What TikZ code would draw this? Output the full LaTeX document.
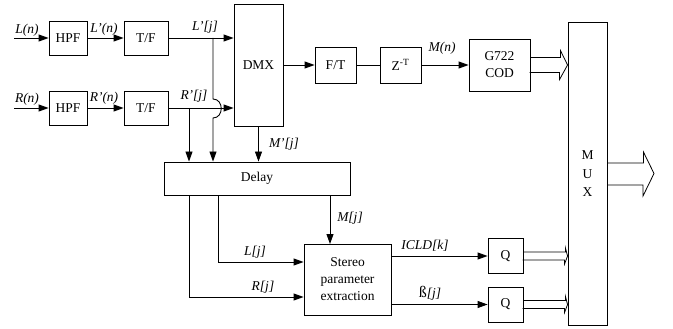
\documentclass[tikz,border=0pt]{standalone}
\usepackage{fontspec}
\setmainfont{Liberation Serif}
\usetikzlibrary{arrows.meta,calc}
\begin{document}
\begin{tikzpicture}[x=1pt,y=-1pt,line width=0.9pt,
  blk/.style n args={2}{draw,inner sep=0pt,minimum width=#1,minimum height=#2,font=\fontsize{13.5}{17}\selectfont,align=center},
  lbl/.style={inner sep=0pt,font=\fontsize{13.5}{16}\selectfont\itshape},
  arr/.style={-{Triangle[length=10pt,width=7pt]}},
  hollow/.style={line width=0.8pt,line join=miter}]
\useasboundingbox (0,0) rectangle (673,329);
% blocks
\node[blk={38}{34}] (hpf1) at (68,38) {HPF};
\node[blk={44}{34}] (tf1) at (146,38) {T/F};
\node[blk={38}{34}] (hpf2) at (68,108) {HPF};
\node[blk={44}{34}] (tf2) at (146,108) {T/F};
\node[blk={49}{122}] (dmx) at (258.5,65) {DMX};
\node[blk={41}{36}] (ft) at (335.5,65) {F/T};
\node[blk={41}{36}] (z) at (400.5,65) {Z\textsuperscript{-T}};
\node[blk={61}{52}] (g722) at (499.5,65) {G722\\COD};
\node[blk={39}{303}] (mux) at (587.5,173.5) {};
\node[inner sep=0pt,font=\fontsize{13.5}{18.5}\selectfont,align=center] (muxt) at (587.5,174) {M\\U\\X};
\node[blk={186}{33}] (delay) at (257,178.5) {Delay};
\node[blk={87}{71}] (stereo) at (347.5,279.5) {Stereo\\parameter\\extraction};
\node[blk={35}{35}] (q1) at (505.5,256) {Q};
\node[blk={35}{35}] (q2) at (505.5,304.5) {Q};
% coordinates
\coordinate (lin) at (14,38);
\coordinate (rin) at (14,108);
\coordinate (lt) at (213,38);
\coordinate (rt) at (189,108);
\coordinate (lj) at (218,262);
\coordinate (rj) at (189,297);
\coordinate (mj) at (330,244);
\coordinate (out) at (654,173.5);
% connectors
\draw[arr] (lin) -- (hpf1.west);
\draw[arr] (rin) -- (hpf2.west);
\draw[arr] (hpf1) -- (tf1);
\draw[arr] (hpf2) -- (tf2);
\draw[arr] (tf1.east) -- (dmx.west |- tf1.east);
\draw[arr] (tf2.east) -- (dmx.west |- tf2.east);
\draw[arr] (lt) -- ($(lt)+(0,61)$) .. controls ($(lt)+(11,61)$) and ($(lt)+(11,80)$) .. ($(lt)+(0,80)$) -- (lt |- delay.north);
\draw[arr] (rt) -- (rt |- delay.north);
\draw[arr] (dmx.south) -- (delay.north -| dmx.south);
\draw[arr] (dmx) -- (ft);
\draw (ft) -- (z);
\draw[arr] (z) -- (g722);
\draw[arr] (delay.south -| lj) |- (stereo.west |- lj);
\draw[arr] (delay.south -| rj) |- (stereo.west |- rj);
\draw[arr] (delay.south -| mj) -- (mj);
\draw[arr] (stereo.east |- q1) -- (q1.west);
\draw[arr] (stereo.east |- q2) -- (q2.west);
% hollow arrows
\draw[hollow] ($(g722.east)+(0,-7.5)$) -- ++(30,0) -- ++(0,-7) -- (mux.west |- g722.east) -- ++(-8,14.5) -- ++(0,-7) -- ++(-30,0);
\draw[hollow] ($(q1.east)+(0,-4)$) -- ++(42,0) -- ++(0,-4) -- (mux.west |- q1.east) -- ++(-3,8) -- ++(0,-4) -- ++(-42,0);
\draw[hollow] ($(q2.east)+(0,-4)$) -- ++(42,0) -- ++(0,-4) -- (mux.west |- q2.east) -- ++(-3,8) -- ++(0,-4) -- ++(-42,0);
\draw[hollow] ($(mux.east)+(0,-10.5)$) -- ++(36,0) -- ++(0,-11) -- (out) -- ++(-11,22.5) -- ++(0,-11) -- ++(-36,0);
% labels
\node[lbl] (l1) at (27,30) {L(n)};
\node[lbl] (l2) at (104,29) {L'(n)};
\node[lbl] (l3) at (27,99) {R(n)};
\node[lbl] (l4) at (104,98) {R'(n)};
\node[lbl] (l5) at (205,27) {L'[j]};
\node[lbl] (l6) at (194,96) {R'[j]};
\node[lbl] (l7) at (284,144) {M'[j]};
\node[lbl] (l8) at (442,48) {M(n)};
\node[lbl] (l9) at (350,218) {M[j]};
\node[lbl] (l10) at (255,252) {L[j]};
\node[lbl] (l11) at (263,287) {R[j]};
\node[lbl] (l12) at (425,246) {ICLD[k]};
\node[lbl] (l13) at (430,293) {{\upshape\fontsize{16}{16}\selectfont ß}[j]};
\end{tikzpicture}
\end{document}
